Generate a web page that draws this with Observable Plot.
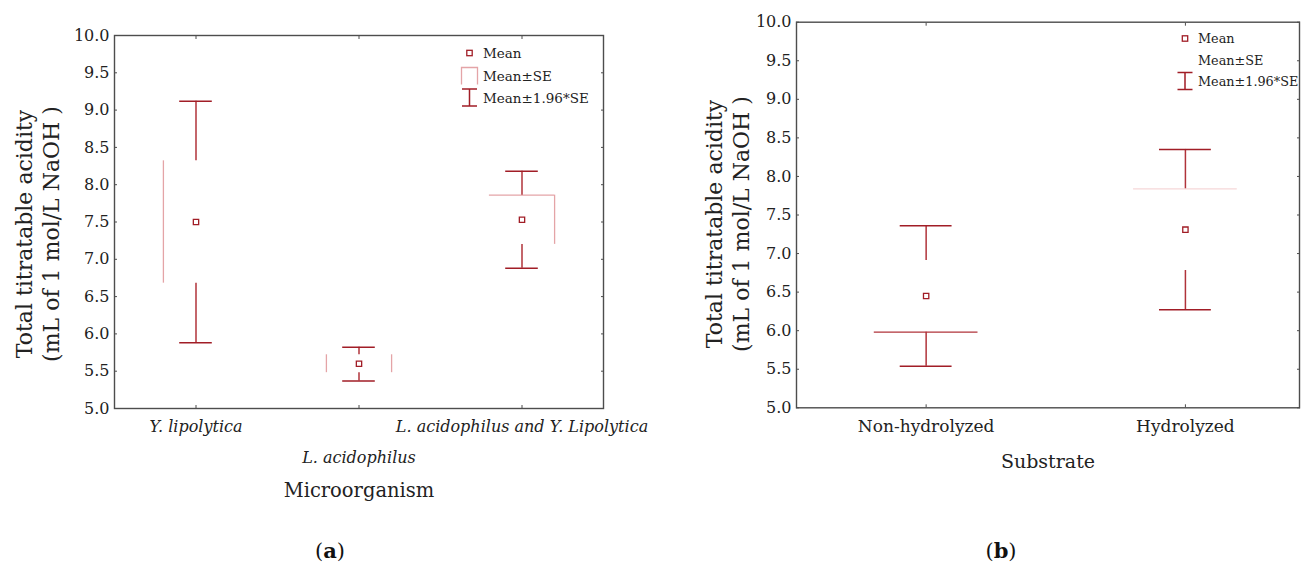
<!DOCTYPE html>
<html><head><meta charset="utf-8">
<script src="https://cdn.jsdelivr.net/npm/d3@7"></script>
<script src="https://cdn.jsdelivr.net/npm/@observablehq/plot@0.6"></script>
<style>
html,body{margin:0;padding:0;background:#fff;overflow:hidden}
#root{position:relative;width:1303px;height:569px;font-family:"DejaVu Serif",serif;overflow:hidden}
.panel{position:absolute;top:0}
.cap{position:absolute;font-size:21px;color:#111;transform:translate(-50%,-50%);white-space:nowrap}
#legend{position:absolute;left:0;top:0;pointer-events:none}
</style></head><body><div id="root"></div>
<script>
// ---------- data ----------
const catsA   = ["Y. lipolytica", "L. acidophilus", "L. acidophilus and Y. Lipolytica"];
const meanA   = [7.50, 5.60, 7.53];
const seLowA  = [6.68, 5.48, 7.20];
const seHighA = [8.32, 5.72, 7.86];
const ciLowA  = [5.88, 5.37, 6.88];
const ciHighA = [9.12, 5.82, 8.18];
const seEdgesA = [["left"], ["left", "right"], ["top", "right"]];

const catsB   = ["Non-hydrolyzed", "Hydrolyzed"];
const meanB   = [6.45, 7.31];
const seLowB  = [5.98, 6.78];
const seHighB = [6.91, 7.84];
const ciLowB  = [5.54, 6.27];
const ciHighB = [7.36, 8.35];
const seEdgesB = [["bottom"], ["top"]];

const yTicks = [5.0, 5.5, 6.0, 6.5, 7.0, 7.5, 8.0, 8.5, 9.0, 9.5, 10.0];
const yTitle = "Total titratable acidity\n(mL of 1 mol/L NaOH )";
const xTitleA = "Microorganism";
const xTitleB = "Substrate";
const legendLabels = ["Mean", "Mean±SE", "Mean±1.96*SE"];
const captions = ["a", "b"];

// ---------- styles ----------
const DARK = "#a11d26", WHISK = "#b0333a", PINK = "#e4a4a7", FAINT = "#f6d7d8", FRAME = "#4d4d4d";
const FONT = "DejaVu Serif";
const BOX = 0.2, CAP = 0.1;

function rowsOf(cats, mean, seL, seH, ciL, ciH, edges) {
  return cats.map((c, i) => ({i, cat: c, mean: mean[i], seL: seL[i], seH: seH[i], ciL: ciL[i], ciH: ciH[i], edges: edges[i]}));
}

function errMarks(rows, edgeColor) {
  const has = e => rows.filter(d => d.edges.includes(e));
  const col = d => (edgeColor ? edgeColor(d) : PINK);
  return [
    Plot.ruleX(has("left"),  {x: d => d.i - BOX, y1: "seL", y2: "seH", stroke: col, strokeWidth: 1.3}),
    Plot.ruleX(has("right"), {x: d => d.i + BOX, y1: "seL", y2: "seH", stroke: col, strokeWidth: 1.3}),
    Plot.ruleY(has("top"),    {y: "seH", x1: d => d.i - BOX, x2: d => d.i + BOX, stroke: col, strokeWidth: 1.3}),
    Plot.ruleY(has("bottom"), {y: "seL", x1: d => d.i - BOX, x2: d => d.i + BOX, stroke: col, strokeWidth: 1.3}),
    Plot.ruleX(rows, {x: "i", y1: "ciH", y2: "seH", stroke: WHISK, strokeWidth: 1.5}),
    Plot.ruleX(rows, {x: "i", y1: "seL", y2: "ciL", stroke: WHISK, strokeWidth: 1.5}),
    Plot.ruleY(rows, {y: "ciH", x1: d => d.i - CAP, x2: d => d.i + CAP, stroke: DARK, strokeWidth: 1.5}),
    Plot.ruleY(rows, {y: "ciL", x1: d => d.i - CAP, x2: d => d.i + CAP, stroke: DARK, strokeWidth: 1.5}),
    Plot.dot(rows, {x: "i", y: "mean", symbol: "square", r: 3, stroke: DARK, fill: "white", strokeWidth: 1.3})
  ];
}

function frameMarks(xTickVals) {
  return [
    Plot.axisY({ticks: yTicks, anchor: "left", tickSize: 3, dx: 3, text: null, label: null, stroke: FRAME}),
    Plot.axisY({ticks: yTicks, anchor: "right", tickSize: 3, dx: -3, text: null, label: null, stroke: FRAME}),
    Plot.axisX({ticks: xTickVals, anchor: "bottom", tickSize: 3, dy: -3, text: null, label: null, stroke: FRAME}),
    Plot.axisX({ticks: xTickVals, anchor: "top", tickSize: 3, dy: 3, text: null, label: null, stroke: FRAME}),
    Plot.axisY({ticks: yTicks, anchor: "left", tickSize: 0, tickPadding: 5, tickFormat: d3.format(".1f"), fontSize: 16, fill: "#222", label: null}),
    Plot.frame({stroke: FRAME, strokeWidth: 1.4})
  ];
}

// ---------- panel (a) ----------
const rowsA = rowsOf(catsA, meanA, seLowA, seHighA, ciLowA, ciHighA, seEdgesA);
const plotA = Plot.plot({
  width: 650, height: 520,
  marginLeft: 114, marginRight: 47, marginTop: 35, marginBottom: 112,
  style: {fontFamily: FONT, background: "transparent", overflow: "visible"},
  x: {type: "linear", domain: [-0.5, 2.5]},
  y: {domain: [5, 10]},
  marks: [
    ...frameMarks(rowsA.map(d => d.i)),
    Plot.axisX({ticks: [0, 2], tickFormat: i => catsA[i], tickSize: 0, tickPadding: 12, fontSize: 16, fontStyle: "italic", fill: "#222", label: null}),
    Plot.axisX({ticks: [1], tickFormat: i => catsA[i], tickSize: 0, tickPadding: 43, fontSize: 16, fontStyle: "italic", fill: "#222", label: null}),
    Plot.text([xTitleA], {frameAnchor: "bottom", dy: 82, fontSize: 19.5, lineAnchor: "middle", fill: "#222"}),
    Plot.text([yTitle], {frameAnchor: "left", rotate: -90, dx: -78, dy: 12, fontSize: 22, lineHeight: 1.23, lineAnchor: "middle", textAnchor: "middle", fill: "#222"}),
    ...errMarks(rowsA)
  ]
});
plotA.classList.add("panel");
plotA.style.left = "0px";

// ---------- panel (b) ----------
const rowsB = rowsOf(catsB, meanB, seLowB, seHighB, ciLowB, ciHighB, seEdgesB);
const plotB = Plot.plot({
  width: 653, height: 520,
  marginLeft: 146, marginRight: 4, marginTop: 21.7, marginBottom: 112.7,
  style: {fontFamily: FONT, background: "transparent", overflow: "visible"},
  x: {type: "linear", domain: [-0.5, 1.44]},
  y: {domain: [5, 10]},
  marks: [
    ...frameMarks(rowsB.map(d => d.i)),
    Plot.axisX({ticks: [0, 1], tickFormat: i => catsB[i], tickSize: 0, tickPadding: 12, fontSize: 17, fill: "#222", label: null}),
    Plot.text([xTitleB], {frameAnchor: "bottom", dy: 54, fontSize: 19, lineAnchor: "middle", fill: "#222"}),
    Plot.text([yTitle], {frameAnchor: "left", rotate: -90, dx: -70, dy: 9, fontSize: 22, lineHeight: 1.23, lineAnchor: "middle", textAnchor: "middle", fill: "#222"}),
    ...errMarks(rowsB, d => (d.i === 0 ? WHISK : FAINT))
  ]
});
plotB.classList.add("panel");
plotB.style.left = "650px";

const root = document.getElementById("root");
root.appendChild(plotA);
root.appendChild(plotB);

// ---------- legends (overlay) ----------
const svg = d3.select(root).append("svg").attr("id", "legend").attr("width", 1303).attr("height", 569)
  .style("font-family", FONT);
function legend(g, sx, tx, ys, withBox, fs) {
  g.append("rect").attr("x", sx - 2.7).attr("y", ys[0] - 2.7).attr("width", 5.4).attr("height", 5.4)
    .attr("fill", "white").attr("stroke", DARK).attr("stroke-width", 1.3);
  if (withBox) {
    g.append("path").attr("d", `M${sx - 8},${ys[1] + 8.5}V${ys[1] - 8.5}H${sx + 8}V${ys[1] + 8.5}`)
      .attr("fill", "none").attr("stroke", PINK).attr("stroke-width", 1.3);
  }
  const t = ys[2] - 9, b = ys[2] + 8;
  g.append("path").attr("d", `M${sx - 7.5},${t}H${sx + 7.5}M${sx},${t}V${b}M${sx - 7.5},${b}H${sx + 7.5}`)
    .attr("fill", "none").attr("stroke", DARK).attr("stroke-width", 1.5);
  legendLabels.forEach((s, k) => g.append("text").attr("x", tx).attr("y", ys[k]).attr("dy", "0.35em")
    .attr("fill", "#222").style("font-size", fs + "px").text(s));
}
legend(svg.append("g"), 469.5, 483, [53, 76, 98], true, 13.5);
legend(svg.append("g"), 1185, 1198, [38.5, 60.7, 81.5], false, 12.8);

// ---------- captions ----------
[[330, 550], [1001, 550]].forEach(([x, y], k) => {
  const d = document.createElement("div");
  d.className = "cap";
  d.style.left = x + "px"; d.style.top = y + "px";
  d.innerHTML = `(<b>${captions[k]}</b>)`;
  root.appendChild(d);
});
</script></body></html>
